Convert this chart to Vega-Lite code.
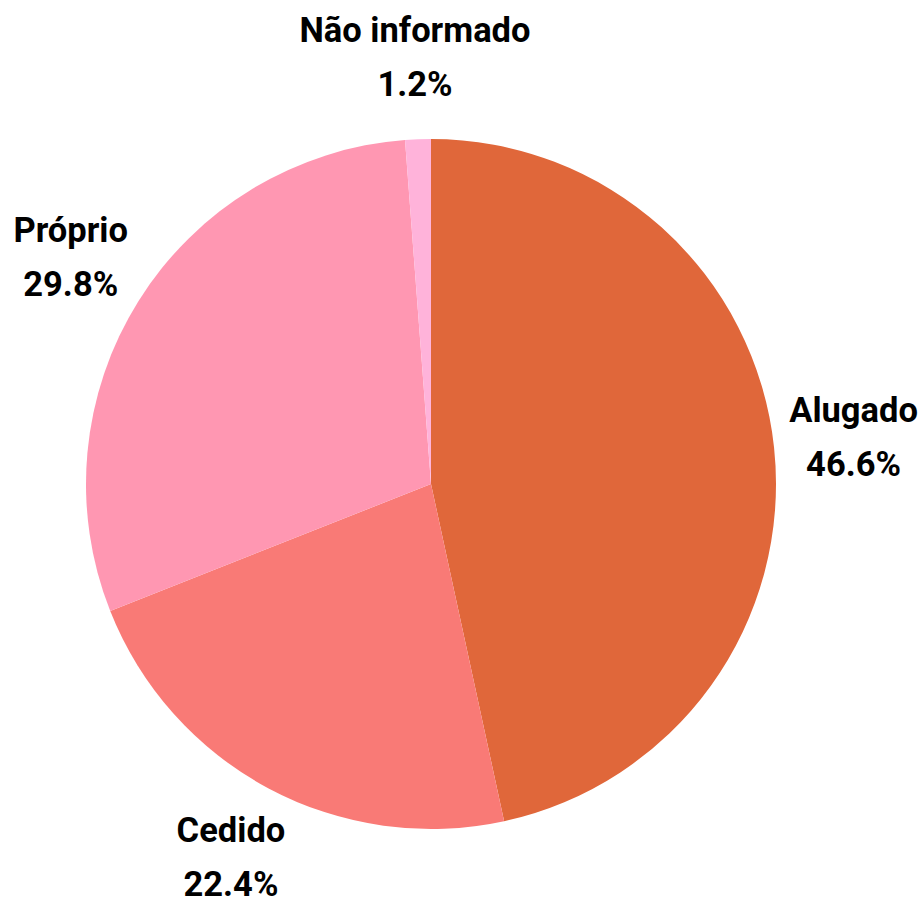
{
  "$schema": "https://vega.github.io/schema/vega-lite/v6.json",
  "width": 862,
  "height": 826,
  "autosize": "none",
  "padding": {"left": 0, "top": 71, "right": 59, "bottom": 0},
  "background": "white",
  "config": {"view": {"stroke": null}},
  "data": {
    "values": [
      {"categoria": "Alugado", "pct": 46.6, "rotulo": "46.6%", "ordem": 1},
      {"categoria": "Cedido", "pct": 22.4, "rotulo": "22.4%", "ordem": 2},
      {"categoria": "Próprio", "pct": 29.8, "rotulo": "29.8%", "ordem": 3},
      {"categoria": "Não informado", "pct": 1.2, "rotulo": "1.2%", "ordem": 4}
    ]
  },
  "encoding": {
    "theta": {"field": "pct", "type": "quantitative", "stack": true},
    "order": {"field": "ordem", "type": "quantitative"}
  },
  "layer": [
    {
      "mark": {"type": "arc", "outerRadius": 345},
      "encoding": {
        "color": {
          "field": "categoria",
          "type": "nominal",
          "scale": {
            "domain": ["Alugado", "Cedido", "Próprio", "Não informado"],
            "range": ["#E0673A", "#F97A76", "#FF97B2", "#FFB3DA"]
          },
          "legend": null
        }
      }
    },
    {
      "mark": {"type": "text", "radius": 425, "dy": -27, "font": "Roboto", "fontWeight": "bold", "fontSize": 34.5, "color": "black", "align": "center", "baseline": "middle"},
      "encoding": {"text": {"field": "categoria", "type": "nominal"}}
    },
    {
      "mark": {"type": "text", "radius": 425, "dy": 27, "font": "Roboto", "fontWeight": "bold", "fontSize": 34.5, "color": "black", "align": "center", "baseline": "middle"},
      "encoding": {"text": {"field": "rotulo", "type": "nominal"}}
    }
  ]
}
